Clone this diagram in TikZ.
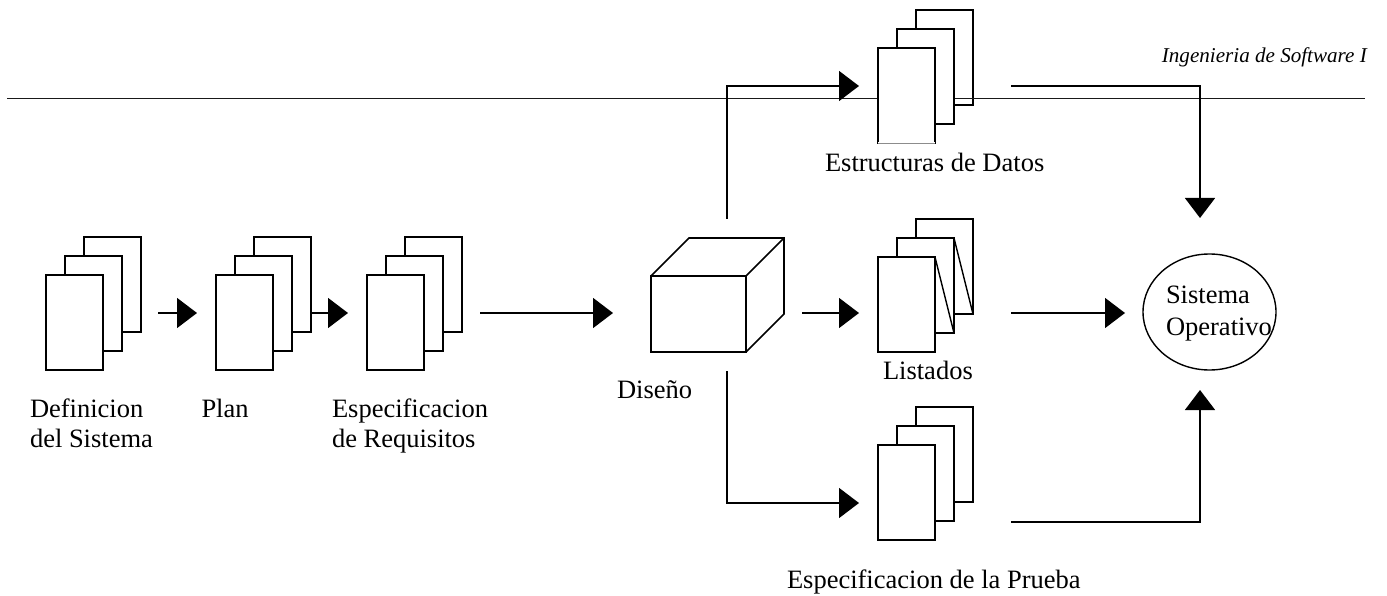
\documentclass[tikz,border=0pt]{standalone}
\usepackage{fontspec}
\setmainfont{Liberation Serif}
\usetikzlibrary{arrows.meta}
\tikzset{
  page/.style={draw=black,line width=1.6pt,fill=white,minimum width=57pt,minimum height=95pt,inner sep=0pt,outer sep=0pt,anchor=north west},
  backpage/.style={page,fill=none},
  conn/.style={draw=black,line width=1.5pt,-{Triangle[length=20pt,width=30pt]}},
  lbl/.style={anchor=base west,inner sep=0pt,outer sep=0pt,font=\fontsize{26.5}{30}\selectfont},
  solid3d/.style={draw=black,line width=1.6pt,line join=miter}
}
% stack: name, x of front page, y of front page
\newcommand{\pagestack}[3]{%
  \node[backpage] (#1c) at (#2+38,#3-38) {};
  \node[page] (#1b) at (#2+19,#3-19) {};
  \node[page] (#1a) at (#2,#3) {};
}
\begin{document}
\begin{tikzpicture}[x=1pt,y=-1pt]
\useasboundingbox (0,0) rectangle (1387,596);
% header
\node[anchor=base east,inner sep=0pt,font=\fontsize{21.1}{25}\selectfont\itshape] (hdr) at (1367,63) {Ingenieria de Software I};
% back page of the top stack comes first, so that the rule shows through it
\coordinate (ruleL) at (7,99);
\coordinate (ruleR) at (1365,99);
\node[backpage] (ec) at (916,10) {};
\draw[line width=1pt,black!90] (ruleL) -- (ruleR);
\node[page] (eb) at (897,29) {};
\node[page] (ea) at (878,48) {};
\draw[white,line width=1.6pt] (ea.south west) -- (ea.south east);
\draw[black!45,line width=0.5pt] (ea.south west) -- (ea.south east);
% stacks
\pagestack{d}{46}{275}
\pagestack{p}{216}{275}
\pagestack{r}{367}{275}
\pagestack{l}{878}{257}
\pagestack{t}{878}{445}
% fold lines of Listados
\draw[solid3d,line width=1.4pt] (la.north east) -- (lb.south east);
\draw[solid3d,line width=1.4pt] (lb.north east) -- (lc.south east);
% cube
\node[draw=black,line width=1.6pt,minimum width=95pt,minimum height=76pt,inner sep=0pt,outer sep=0pt,anchor=north west] (cube) at (651,276) {};
\coordinate (cubeTL) at (689,238);
\coordinate (cubeTR) at (784,238);
\coordinate (cubeBR) at (784,314);
\draw[solid3d] (cube.north west) -- (cubeTL) -- (cubeTR) -- (cubeBR) -- (cube.south east);
\draw[solid3d] (cube.north east) -- (cubeTR);
% Sistema Operativo
\draw[line width=1.4pt] (1209.5,312) ellipse [x radius=66.5,y radius=58];
% connector ends
\coordinate (a1s) at (158,313); \coordinate (a1e) at (197,313);
\coordinate (a2s) at (311,313); \coordinate (a2e) at (348,313);
\coordinate (a3s) at (480,313); \coordinate (a3e) at (613,313);
\coordinate (a4s) at (802,313); \coordinate (a4e) at (859,313);
\coordinate (a5s) at (1011,313); \coordinate (a5e) at (1125,313);
\coordinate (a6s) at (727,219); \coordinate (a6m) at (727,86); \coordinate (a6e) at (859,86);
\coordinate (a7s) at (727,371); \coordinate (a7m) at (727,503); \coordinate (a7e) at (859,503);
\coordinate (a8s) at (1011,86); \coordinate (a8m) at (1200,86); \coordinate (a8e) at (1200,218);
\coordinate (a9s) at (1011,522); \coordinate (a9m) at (1200,522); \coordinate (a9e) at (1200,390);
\draw[conn] (a1s) -- (a1e);
\draw[conn] (a2s) -- (a2e);
\draw[conn] (a3s) -- (a3e);
\draw[conn] (a4s) -- (a4e);
\draw[conn] (a5s) -- (a5e);
\draw[conn] (a6s) -- (a6m) -- (a6e);
\draw[conn] (a7s) -- (a7m) -- (a7e);
\draw[conn] (a8s) -- (a8m) -- (a8e);
\draw[conn] (a9s) -- (a9m) -- (a9e);
% labels
\node[lbl] (t1) at (30,417) {Definicion};
\node[lbl] (t2) at (30,447) {del Sistema};
\node[lbl] (t3) at (201.5,417) {Plan};
\node[lbl] (t4) at (332,417) {Especificacion};
\node[lbl] (t5) at (332,447) {de Requisitos};
\node[lbl] (t6) at (617,398) {Diseño};
\node[lbl] (t7) at (883,379) {Listados};
\node[lbl] (t8) at (825,172) {Estructuras de Datos};
\node[lbl] (t9) at (787,588) {Especificacion de la Prueba};
\node[lbl] (t10) at (1166,303) {Sistema};
\node[lbl] (t11) at (1166,335) {Operativo};
\end{tikzpicture}
\end{document}
